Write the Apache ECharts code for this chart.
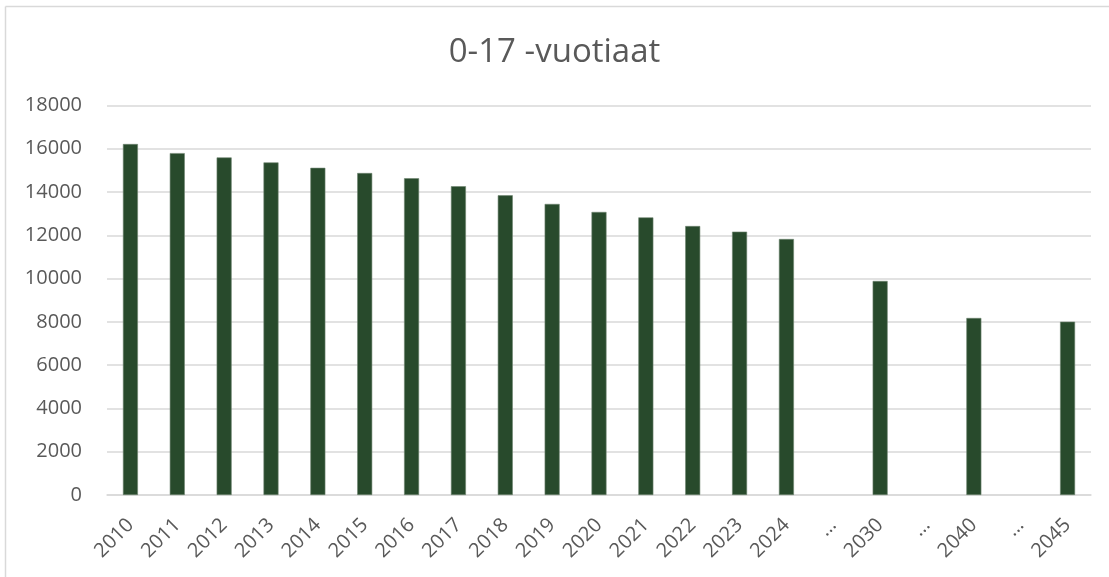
<!DOCTYPE html>
<html>
<head>
<meta charset="utf-8">
<title>0-17 -vuotiaat</title>
<script src="https://cdn.jsdelivr.net/npm/echarts@6/dist/echarts.min.js"></script>
<style>
  html, body { margin: 0; padding: 0; background: #fff; }
  #chart { width: 1109px; height: 577px; }
</style>
</head>
<body>
<div id="chart"></div>
<script>
// data
var years = ['2010', '2011', '2012', '2013', '2014', '2015', '2016', '2017',
  '2018', '2019', '2020', '2021', '2022', '2023', '2024',
  '…', '2030', '…', '2040', '…', '2045']
var counts = [16220, 15800, 15600, 15370, 15120, 14880, 14640, 14270,
  13850, 13450, 13080, 12830, 12430, 12170, 11830,
  null, 9890, null, 8180, null, 8010]
var yTicks = { min: 0, max: 18000, step: 2000 }

var chart = echarts.init(document.getElementById('chart'))

chart.setOption({
  animation: false,
  textStyle: { fontFamily: 'Open Sans' },
  title: {
    text: '0-17 -vuotiaat',
    left: 'center',
    top: 31,
    textStyle: { color: '#595959', fontSize: 33, fontWeight: 'normal', fontFamily: 'Open Sans' }
  },
  // chart frame (only left and top edges show in the picture)
  graphic: [
    { type: 'line', shape: { x1: 5.5, y1: 6.5, x2: 5.5, y2: 577 }, style: { stroke: '#d9d9d9', lineWidth: 1.5 } },
    { type: 'line', shape: { x1: 5.5, y1: 6.5, x2: 1109, y2: 6.5 }, style: { stroke: '#d9d9d9', lineWidth: 1.5 } }
  ],
  grid: { left: 107, right: 18, top: 105.5, bottom: 82 },
  xAxis: {
    type: 'category',
    data: years,
    axisLine: { lineStyle: { color: '#d9d9d9', width: 1.5 } },
    axisTick: { show: false },
    axisLabel: {
      interval: 0,
      rotate: 45,
      margin: 27,
      color: '#595959',
      fontSize: 20
    }
  },
  yAxis: {
    type: 'value',
    min: yTicks.min,
    max: yTicks.max,
    interval: yTicks.step,
    axisLine: { show: false },
    axisTick: { show: false },
    axisLabel: {
      color: '#595959',
      fontSize: 20,
      margin: 25,
      formatter: function (v) { return String(v) }
    },
    splitLine: { lineStyle: { color: '#d9d9d9', width: 1.5 } }
  },
  series: [
    {
      type: 'bar',
      data: counts,
      barWidth: 15,
      itemStyle: {
        color: '#284a2c',
        borderColor: '#6e8571',
        borderWidth: 0.6
      }
    }
  ]
})
</script>
</body>
</html>
